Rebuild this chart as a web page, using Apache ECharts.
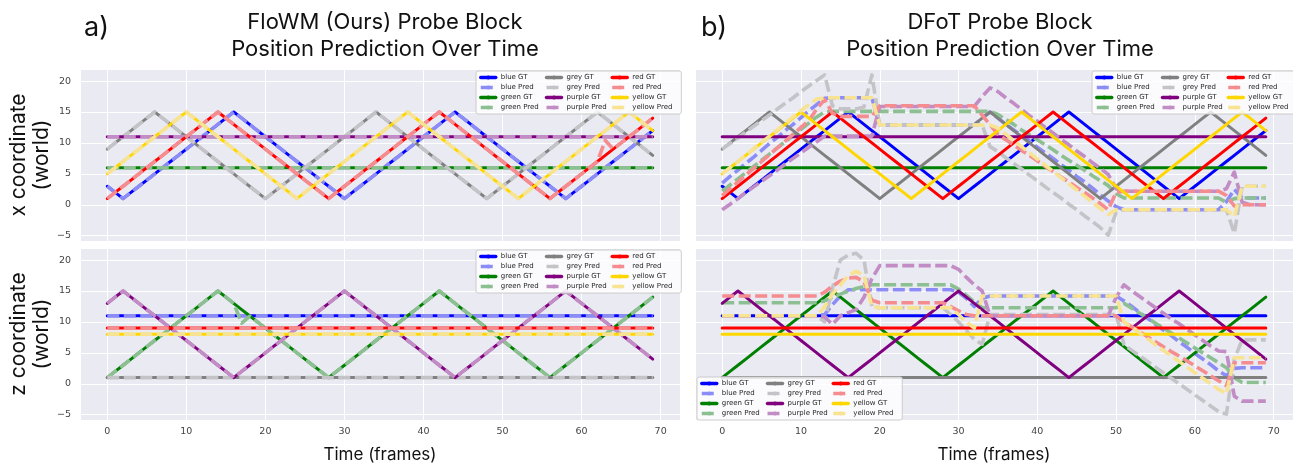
<!DOCTYPE html>
<html><head><meta charset="utf-8">
<script src="https://cdn.jsdelivr.net/npm/echarts@6.0.0/dist/echarts.min.js"></script>
<style>html,body{margin:0;padding:0;background:#fff}#c{width:1293px;height:465px}</style>
</head><body><div id="c"></div><script>
// ---------- time axis ----------
const frames = [0,1,2,3,4,5,6,7,8,9,10,11,12,13,14,15,16,17,18,19,20,21,22,23,24,25,26,27,28,29,
30,31,32,33,34,35,36,37,38,39,40,41,42,43,44,45,46,47,48,49,50,51,52,53,54,55,56,57,58,59,
60,61,62,63,64,65,66,67,68,69];
const xTicks = [0,10,20,30,40,50,60,70];
const yTicks = [-5,0,5,10,15,20];

// ---------- ground truth: x coordinate ----------
const blueXgt = [3,2,1,2,3,4,5,6,7,8,9,10,11,12,13,14,15,14,13,12,11,10,9,8,7,6,5,4,3,2,1,
2,3,4,5,6,7,8,9,10,11,12,13,14,15,14,13,12,11,10,9,8,7,6,5,4,3,2,1,2,3,4,5,6,7,8,9,10,11,12];
const greenXgt = [6,6,6,6,6,6,6,6,6,6,6,6,6,6,6,6,6,6,6,6,6,6,6,6,6,6,6,6,6,6,6,6,6,6,6,
6,6,6,6,6,6,6,6,6,6,6,6,6,6,6,6,6,6,6,6,6,6,6,6,6,6,6,6,6,6,6,6,6,6,6];
const greyXgt = [9,10,11,12,13,14,15,14,13,12,11,10,9,8,7,6,5,4,3,2,1,2,3,4,5,6,7,8,9,10,11,12,13,14,15,
14,13,12,11,10,9,8,7,6,5,4,3,2,1,2,3,4,5,6,7,8,9,10,11,12,13,14,15,14,13,12,11,10,9,8];
const purpleXgt = [11,11,11,11,11,11,11,11,11,11,11,11,11,11,11,11,11,11,11,11,11,11,11,11,11,11,11,11,11,11,11,11,11,11,11,
11,11,11,11,11,11,11,11,11,11,11,11,11,11,11,11,11,11,11,11,11,11,11,11,11,11,11,11,11,11,11,11,11,11,11];
const redXgt = [1,2,3,4,5,6,7,8,9,10,11,12,13,14,15,14,13,12,11,10,9,8,7,6,5,4,3,2,1,
2,3,4,5,6,7,8,9,10,11,12,13,14,15,14,13,12,11,10,9,8,7,6,5,4,3,2,1,2,3,4,5,6,7,8,9,10,11,12,13,14];
const yellowXgt = [5,6,7,8,9,10,11,12,13,14,15,14,13,12,11,10,9,8,7,6,5,4,3,2,1,
2,3,4,5,6,7,8,9,10,11,12,13,14,15,14,13,12,11,10,9,8,7,6,5,4,3,2,1,2,3,4,5,6,7,8,9,10,11,12,13,14,15,14,13,12];

// ---------- ground truth: z coordinate ----------
const blueZgt = [11,11,11,11,11,11,11,11,11,11,11,11,11,11,11,11,11,11,11,11,11,11,11,11,11,11,11,11,11,11,11,11,11,11,11,
11,11,11,11,11,11,11,11,11,11,11,11,11,11,11,11,11,11,11,11,11,11,11,11,11,11,11,11,11,11,11,11,11,11,11];
const greenZgt = [1,2,3,4,5,6,7,8,9,10,11,12,13,14,15,14,13,12,11,10,9,8,7,6,5,4,3,2,1,
2,3,4,5,6,7,8,9,10,11,12,13,14,15,14,13,12,11,10,9,8,7,6,5,4,3,2,1,2,3,4,5,6,7,8,9,10,11,12,13,14];
const greyZgt = [1,1,1,1,1,1,1,1,1,1,1,1,1,1,1,1,1,1,1,1,1,1,1,1,1,1,1,1,1,1,1,1,1,1,1,
1,1,1,1,1,1,1,1,1,1,1,1,1,1,1,1,1,1,1,1,1,1,1,1,1,1,1,1,1,1,1,1,1,1,1];
const purpleZgt = [13,14,15,14,13,12,11,10,9,8,7,6,5,4,3,2,1,2,3,4,5,6,7,8,9,10,11,12,13,14,15,
14,13,12,11,10,9,8,7,6,5,4,3,2,1,2,3,4,5,6,7,8,9,10,11,12,13,14,15,14,13,12,11,10,9,8,7,6,5,4];
const redZgt = [9,9,9,9,9,9,9,9,9,9,9,9,9,9,9,9,9,9,9,9,9,9,9,9,9,9,9,9,9,9,9,9,9,9,9,
9,9,9,9,9,9,9,9,9,9,9,9,9,9,9,9,9,9,9,9,9,9,9,9,9,9,9,9,9,9,9,9,9,9,9];
const yellowZgt = [8,8,8,8,8,8,8,8,8,8,8,8,8,8,8,8,8,8,8,8,8,8,8,8,8,8,8,8,8,8,8,8,8,8,8,
8,8,8,8,8,8,8,8,8,8,8,8,8,8,8,8,8,8,8,8,8,8,8,8,8,8,8,8,8,8,8,8,8,8,8];

// ---------- FloWM predictions (deviations from GT) ----------
const redXpredA = [1,2,3,4,5,6,7,8,9,10,11,12,13,14,15,14,13,12,11,10,9,8,7,6,5,4,3,2,1,
2,3,4,5,6,7,8,9,10,11,12,13,14,15,14,13,12,11,10,9,8,7,6,5,4,3,2,1,2,3,4,5,6,7,10.4,9,10,11,12,13,14];
const greenZpredA = [1,2,3,4,5,6,7,8,9,10,11,12,13,14,15,14,13,9.8,10.9,10,9,8,7,6,5,4,3,2,1,
2,3,4,5,6,7,8,9,10,11,12,13,14,15,14,13,12,11,10,9,8,7,6,5,4,3,2,1,2,3,4,5,6,7,8,9,10,11,12,13,14];

// ---------- DFoT predictions: x coordinate ----------
const blueXpredB = [3.5,4.6,5.6,6.7,7.7,8.8,9.9,10.9,12.0,13.0,14.1,15.2,16.2,17.2,
17.3,17.3,17.3,17.3,17.3,17.3,
12.9,12.9,12.9,12.9,12.9,12.9,12.9,12.9,12.9,12.9,12.9,12.9,12.9,
14.0,15.0,
14.0,13.0,12.1,11.2,10.3,9.3,8.4,7.5,6.5,5.6,4.6,3.7,2.7,1.6,0.6,-0.3,
-0.8,-0.8,-0.8,-0.8,-0.8,-0.8,-0.8,-0.8,-0.8,-0.8,-0.8,-0.8,-0.8,
0.5,2.5,1.1,1.1,1.1,1.1];
const greenXpredB = [2.2,3.2,4.2,5.2,6.2,7.2,8.2,9.2,10.2,11.2,12.2,13.2,14.2,15.0,
15.1,15.1,15.1,15.1,15.1,15.1,15.1,15.1,15.1,15.1,15.1,15.1,15.1,15.1,15.1,15.1,15.1,15.1,15.1,15.1,15.1,
14.6,13.8,13.0,12.1,11.3,10.5,9.7,8.9,8.0,7.2,6.4,5.6,4.7,3.9,3.1,1.8,
1.1,1.1,1.1,1.1,1.1,1.1,1.1,1.1,1.1,1.1,1.1,1.1,1.1,
0.4,1.0,1.1,1.1,1.1,1.1];
const greyXpredB = [9.0,9.9,10.8,11.8,12.7,13.6,14.5,15.5,16.4,17.3,18.3,19.2,20.1,21.0,
16.0,15.5,15.5,15.5,15.8,21.0,
12.9,12.9,12.9,12.9,12.9,12.9,12.9,12.9,12.9,12.9,12.9,12.9,12.9,12.9,
9.4,8.6,7.6,6.7,5.8,4.8,3.9,2.9,2.0,1.1,0.1,-0.8,-1.8,-2.7,-3.7,-4.9,-1.2,
-0.8,-0.8,-0.8,-0.8,-0.8,-0.8,-0.8,-0.8,-0.8,-0.8,-0.8,-0.8,-0.8,-0.8,
-4.6,3.0,3.0,3.0,3.0];
const purpleXpredB = [-0.8,0.1,1.0,2.0,2.9,3.8,4.7,5.6,6.6,7.5,8.4,9.3,10.2,11.1,
11.1,11.1,11.1,11.1,11.1,11.1,
15.9,15.9,15.9,15.9,15.9,15.9,15.9,15.9,15.9,15.9,15.9,15.9,15.9,
17.5,18.9,18.3,17.3,16.4,15.4,14.4,13.5,12.5,11.6,10.6,9.7,8.7,7.8,6.8,5.9,4.9,2.6,
2.2,2.2,2.2,2.2,2.2,2.2,2.2,2.2,2.2,2.2,2.2,2.2,2.2,
2.6,5.3,0.4,0.0,0.0,0.0];
const redXpredB = [1.5,2.6,3.7,4.8,5.9,7.0,8.1,9.2,10.3,11.4,12.5,13.6,15.5,17.0,
14.8,14.3,14.3,14.3,14.3,14.3,
16.0,16.0,16.0,16.0,16.0,16.0,16.0,16.0,16.0,16.0,16.0,16.0,16.0,
14.5,12.9,11.4,10.5,9.7,8.8,8.0,7.1,6.2,5.4,4.5,3.7,2.8,2.0,1.1,0.2,-0.8,2.0,
2.2,2.2,2.2,2.2,2.2,2.2,2.2,2.2,2.2,2.2,2.2,2.2,2.2,
1.5,-0.2,0.0,0.0,0.0,0.0];
const yellowXpredB = [5.0,6.0,7.0,8.0,9.1,10.1,11.1,12.1,13.2,14.2,15.2,16.2,17.1,
17.3,17.3,17.3,17.3,17.3,17.3,17.3,
12.9,12.9,12.9,12.9,12.9,12.9,12.9,12.9,12.9,12.9,12.9,12.9,12.9,12.9,12.9,
12.4,11.4,10.4,9.4,8.4,7.4,6.4,5.4,4.4,3.4,2.4,1.4,0.4,-0.6,-1.6,
-0.8,-0.8,-0.8,-0.8,-0.8,-0.8,-0.8,-0.8,-0.8,-0.8,-0.8,-0.8,-0.8,-0.8,-0.8,
-1.9,3.0,3.0,3.0,3.0];

// ---------- DFoT predictions: z coordinate ----------
const blueZpredB = [11,11,11,11,11,11,11,11,11,11,11,11,11,
11.2,12.8,14.2,
15.2,15.2,15.2,15.2,15.2,15.2,15.2,15.2,15.2,15.2,15.2,15.2,15.2,15.2,
14.8,13.8,12.5,13.8,
14.2,14.2,14.2,14.2,14.2,14.2,14.2,14.2,14.2,14.2,14.2,14.2,14.2,14.2,14.2,14.2,14.2,
13.4,12.5,11.5,10.6,9.6,8.7,7.8,6.8,5.9,4.9,4.0,3.1,2.1,1.3,2.5,
2.6,2.6,2.6,2.6];
const greenZpredB = [13.1,13.1,13.1,13.1,13.1,13.1,13.1,13.1,13.1,13.1,13.1,13.1,13.1,
13.4,14.0,14.5,15.0,15.4,15.7,
16.0,16.0,16.0,16.0,16.0,16.0,16.0,16.0,16.0,16.0,16.0,
15.3,14.3,13.2,
12.3,12.3,12.3,12.3,12.3,12.3,12.3,12.3,12.3,12.3,12.3,12.3,12.3,12.3,12.3,12.3,12.3,12.3,
13.0,12.2,11.4,10.6,9.8,9.0,8.2,7.4,6.6,5.8,5.0,4.2,3.4,2.6,1.0,
0.2,0.2,0.2,0.2];
const greyZpredB = [11,11,11,11,11,11,11,11,11,11,11,11,11,
10.0,15.5,20.0,20.8,21.1,20.0,12.5,
12.3,12.3,12.3,12.3,12.3,12.3,12.3,12.3,12.3,
11.2,10.0,8.6,7.2,6.4,
11.2,11.2,11.2,11.2,11.2,11.2,11.2,11.2,11.2,11.2,11.2,11.2,11.2,11.2,11.2,11.2,11.2,
6.3,5.4,4.5,3.6,2.7,1.8,0.9,0.0,-0.9,-1.8,-2.7,-3.6,-4.5,-4.9,4.0,
7.1,7.1,7.1,7.1];
const purpleZpredB = [11,11,11,11,11,11,11,11,11,11,11,11,11,
10.8,9.6,11.0,11.5,12.0,14.0,17.0,
19.1,19.1,19.1,19.1,19.1,19.1,19.1,19.1,19.1,19.1,
18.5,17.2,16.0,15.0,
11.0,11.0,11.0,11.0,11.0,11.0,11.0,11.0,11.0,11.0,11.0,11.0,11.0,11.0,11.0,11.0,
14.0,16.0,15.0,14.1,13.2,12.3,11.4,10.5,9.7,8.8,7.9,7.0,6.1,5.3,5.2,-2.0,
-2.8,-2.8,-2.8,-2.8];
const redZpredB = [14.2,14.2,14.2,14.2,14.2,14.2,14.2,14.2,14.2,14.2,14.2,14.2,14.2,
14.8,15.8,16.6,17.1,17.2,16.5,13.5,
13.1,13.1,13.1,13.1,13.1,13.1,13.1,13.1,13.1,
12.5,11.8,11.2,
11.0,11.0,11.0,11.0,11.0,11.0,11.0,11.0,11.0,11.0,11.0,11.0,11.0,11.0,11.0,11.0,11.0,11.0,11.0,
10.0,9.2,8.4,7.6,6.8,6.0,5.2,4.5,3.7,2.9,2.1,1.3,0.5,-0.3,3.4,
3.4,3.4,3.4,3.4];
const yellowZpredB = [11,11,11,11,11,11,11,11,11,11,11,11,11,
12.5,14.5,16.0,17.5,18.2,17.5,12.5,
12.3,12.3,12.3,12.3,12.3,12.3,12.3,12.3,12.3,12.3,
11.2,10.0,9.0,
14.2,14.2,14.2,14.2,14.2,14.2,14.2,14.2,14.2,14.2,14.2,14.2,14.2,14.2,14.2,14.2,14.2,14.2,
10.0,9.1,8.2,7.3,6.3,5.4,4.5,3.6,2.7,1.8,0.9,0.0,-0.9,-1.6,4.2,
4.2,4.2,4.2,4.2];

// ---------- styling ----------
const colorKeys = ['blue','green','grey','purple','red','yellow'];
const gtColor = {blue:'#0000ff', green:'#008000', grey:'#808080', purple:'#800080', red:'#ff0000', yellow:'#ffd700'};
const predColor = {blue:'#8c8cf7', green:'#8cbf91', grey:'#c4c4c8', purple:'#c28cc4', red:'#f58c90', yellow:'#f7e391'};
const legendOrder = ['blue GT','grey GT','red GT','blue Pred','grey Pred','red Pred',
  'green GT','purple GT','yellow GT','green Pred','purple Pred','yellow Pred'];

const panels = [
  {gt:{blue:blueXgt,green:greenXgt,grey:greyXgt,purple:purpleXgt,red:redXgt,yellow:yellowXgt},
   pred:{blue:blueXgt,green:greenXgt,grey:greyXgt,purple:purpleXgt,red:redXpredA,yellow:yellowXgt}},
  {gt:{blue:blueZgt,green:greenZgt,grey:greyZgt,purple:purpleZgt,red:redZgt,yellow:yellowZgt},
   pred:{blue:blueZgt,green:greenZpredA,grey:greyZgt,purple:purpleZgt,red:redZgt,yellow:yellowZgt}},
  {gt:{blue:blueXgt,green:greenXgt,grey:greyXgt,purple:purpleXgt,red:redXgt,yellow:yellowXgt},
   pred:{blue:blueXpredB,green:greenXpredB,grey:greyXpredB,purple:purpleXpredB,red:redXpredB,yellow:yellowXpredB}},
  {gt:{blue:blueZgt,green:greenZgt,grey:greyZgt,purple:purpleZgt,red:redZgt,yellow:yellowZgt},
   pred:{blue:blueZpredB,green:greenZpredB,grey:greyZpredB,purple:purpleZpredB,red:redZpredB,yellow:yellowZpredB}}
];

const grids = [
  {left:80, top:69, width:600, height:172},
  {left:80, top:248, width:600, height:172},
  {left:695, top:69, width:601, height:172},
  {left:695, top:248, width:601, height:172}
].map(g => Object.assign(g, {show:true, backgroundColor:'#eaeaf2', borderWidth:0, containLabel:false}));

const series = [];
panels.forEach((p, gi) => {
  colorKeys.forEach(k => {
    series.push({
      type:'line', name:k+' GT', xAxisIndex:gi, yAxisIndex:gi,
      data: frames.map((f,i)=>[f, p.gt[k][i]]),
      symbol:'none', showSymbol:false, silent:true, animation:false,
      itemStyle:{color:gtColor[k]},
      lineStyle:{color:gtColor[k], width:3, join:'round', cap:'round'}
    });
    series.push({
      type:'line', name:k+' Pred', xAxisIndex:gi, yAxisIndex:gi,
      data: frames.map((f,i)=>[f, p.pred[k][i]]),
      symbol:'none', showSymbol:false, silent:true, animation:false,
      itemStyle:{color:predColor[k]},
      lineStyle:{color:predColor[k], width:3.6, type:[12,4.5], join:'round', cap:'butt'}
    });
  });
});

const minus = v => (v < 0 ? '\u2212' + Math.abs(v) : String(v));

const xAxes = grids.map((g, i) => ({
  type:'value', gridIndex:i, min:-3.45, max:72.45, minInterval:10, maxInterval:10,
  axisLine:{show:false}, axisTick:{show:false},
  splitLine:{show:true, lineStyle:{color:'#ffffff', width:1}},
  axisLabel:{show: (i===1 || i===3), showMinLabel:false, showMaxLabel:false,
    fontSize:9.5, color:'#444', margin:7, fontFamily:'DejaVu Sans',
    formatter: v => xTicks.includes(v) ? String(v) : ''},
  name: (i===1 || i===3) ? 'Time (frames)' : '',
  nameLocation:'middle', nameGap:26,
  nameTextStyle:{fontSize:17, color:'#111', fontFamily:'Inter'}
}));
const yAxes = grids.map((g, i) => ({
  type:'value', gridIndex:i, min:-5.85, max:21.95, minInterval:5, maxInterval:5,
  axisLine:{show:false}, axisTick:{show:false},
  splitLine:{show:true, lineStyle:{color:'#ffffff', width:1}},
  axisLabel:{show: (i===0 || i===1), showMinLabel:false, showMaxLabel:false,
    fontSize:9.5, color:'#444', margin:9, fontFamily:'DejaVu Sans',
    formatter: v => yTicks.includes(v) ? minus(v) : ''},
  name: i===0 ? 'x coordinate\n(world)' : (i===1 ? 'z coordinate\n(world)' : ''),
  nameLocation:'middle', nameGap:27, nameRotate:90,
  nameTextStyle:{fontSize:21, lineHeight:23, color:'#111', fontFamily:'Inter'}
}));

const legendBase = {
  orient:'horizontal', width:200, itemWidth:15, itemHeight:5, itemGap:1,
  padding:[2,6,2,3], backgroundColor:'rgba(255,255,255,0.8)', borderColor:'#cccccc',
  borderWidth:1, borderRadius:2, selectedMode:false, data:legendOrder,
  lineStyle:{width:3.5},
  textStyle:{fontSize:7, lineHeight:9, color:'#262626', width:43, overflow:'none', fontFamily:'DejaVu Sans'}
};
const legends = [
  Object.assign({left:476, top:71}, legendBase),
  Object.assign({left:476, top:250}, legendBase),
  Object.assign({left:1092, top:71}, legendBase),
  Object.assign({left:697, top:377}, legendBase)
];

const titles = [
  {text:'a)', left:79, top:9, textStyle:{fontSize:27, fontWeight:'normal', color:'#111', fontFamily:'Inter'}},
  {text:'FloWM (Ours) Probe Block\nPosition Prediction Over Time', left:380, top:4, textAlign:'center',
   textStyle:{fontSize:22, lineHeight:27, fontWeight:'normal', color:'#111', fontFamily:'Inter', align:'center'}},
  {text:'b)', left:696, top:9, textStyle:{fontSize:27, fontWeight:'normal', color:'#111', fontFamily:'Inter'}},
  {text:'DFoT Probe Block\nPosition Prediction Over Time', left:995, top:4, textAlign:'center',
   textStyle:{fontSize:22, lineHeight:27, fontWeight:'normal', color:'#111', fontFamily:'Inter', align:'center'}}
];

const chart = echarts.init(document.getElementById('c'), null, {renderer:'canvas'});
chart.setOption({
  animation:false, backgroundColor:'#ffffff',
  title: titles, grid: grids, xAxis: xAxes, yAxis: yAxes, legend: legends, series: series
});
</script></body></html>
